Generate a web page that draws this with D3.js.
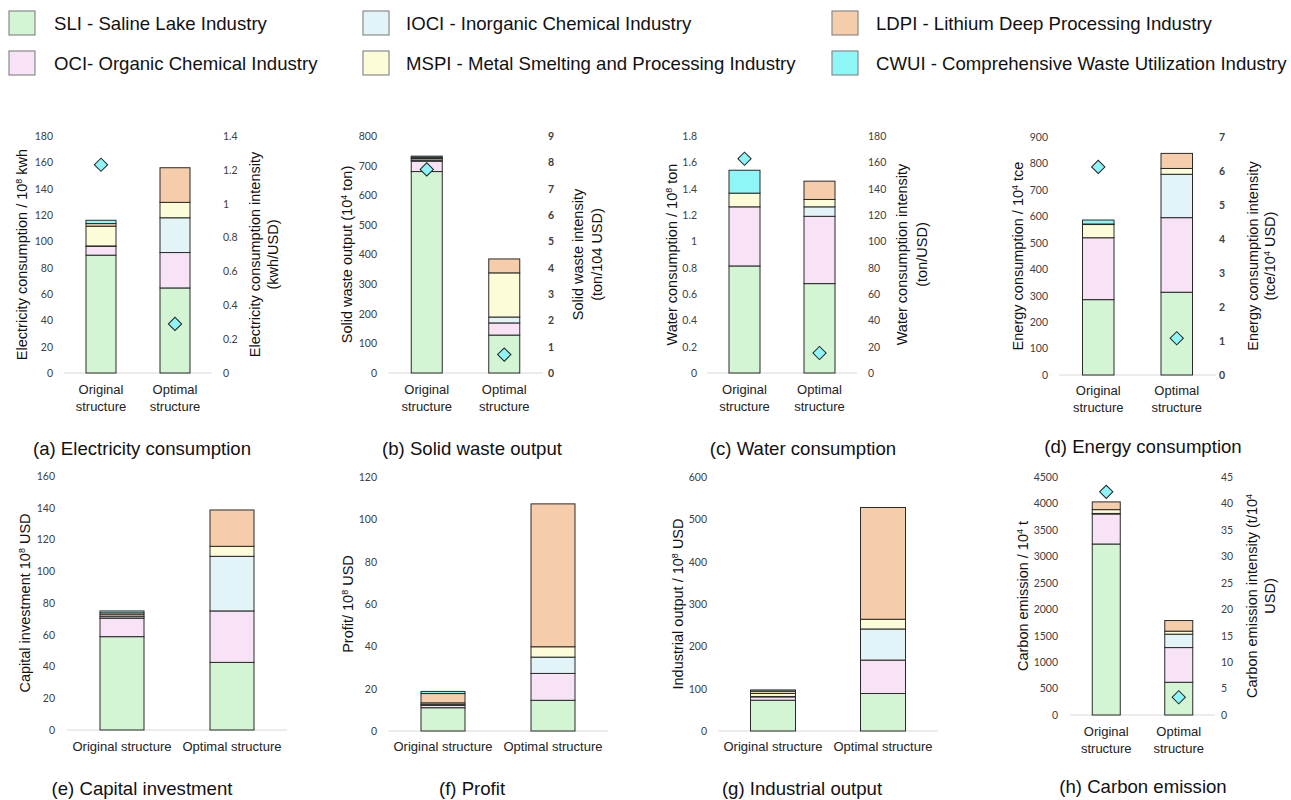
<!DOCTYPE html>
<html>
<head>
<meta charset="utf-8">
<script src="https://cdn.jsdelivr.net/npm/d3@7"></script>
<style>
  body { margin: 0; background: #fff; }
  svg { display: block; }
</style>
</head>
<body>
<div id="chart"></div>
<script>
// industries, in stacking order (bottom -> top)
var industries = ["SLI", "OCI", "IOCI", "MSPI", "LDPI", "CWUI"];
var legendLabels = [
  "SLI - Saline Lake Industry",
  "OCI- Organic Chemical Industry",
  "IOCI - Inorganic Chemical Industry",
  "MSPI - Metal Smelting and Processing Industry",
  "LDPI - Lithium Deep Processing Industry",
  "CWUI - Comprehensive Waste Utilization Industry"
];
var structures = ["Original structure", "Optimal structure"];

// values per industry: [SLI, OCI, IOCI, MSPI, LDPI, CWUI]
var electricityOriginal = [89.5, 6.7, 0.3, 15.0, 2.0, 2.5];
var electricityOptimal  = [64.6, 26.9, 26.4, 11.7, 26.3, 0];
var electricityIntensity = [1.23, 0.29];

var solidWasteOriginal = [680, 35, 4, 5, 4, 4];
var solidWasteOptimal  = [128, 41, 20, 149, 47, 0];
var solidWasteIntensity = [7.73, 0.70];

var waterOriginal = [0.813, 0.449, 0, 0.104, 0, 0.174];
var waterOptimal  = [0.679, 0.511, 0.072, 0.056, 0.139, 0];
var waterIntensity = [162.7, 15.2];

var energyOriginal = [285, 234, 0, 50, 2, 15];
var energyOptimal  = [313, 282, 164, 22, 57, 0];
var energyIntensity = [6.12, 1.08];

var investmentOriginal = [58.8, 11.6, 1.0, 1.2, 1.2, 1.2];
var investmentOptimal  = [42.6, 32.4, 34.4, 6.3, 22.9, 0];

var profitOriginal = [11.0, 1.1, 0.5, 0.7, 4.4, 1.0];
var profitOptimal  = [14.5, 12.7, 7.7, 4.9, 67.5, 0];

var outputOriginal = [72.7, 7.9, 1.0, 7.0, 5.4, 3.0];
var outputOptimal  = [88.6, 78.9, 73.5, 23.0, 264, 0];

var carbonOriginal = [3233, 568, 10, 72, 146, 0];
var carbonOptimal  = [619, 656, 253, 57, 201, 0];
var carbonIntensity = [42.2, 3.35];

var colors = d3.scaleOrdinal()
    .domain(industries)
    .range(["#d3f5d3", "#f8e3f6", "#e2f4f7", "#fcfdd8", "#f6cdaa", "#8ff6f8"]);

var panels = [
  {data: [electricityOriginal, electricityOptimal], intensity: electricityIntensity,
   yMax: 180, yStep: 20, y0: 373, y1: 136, rMax: 1.4, rStep: 0.2, base: [64, 212], bw: 30,
   lx: 53, rx: 223, ltx: 22, rtx: [255, 273], twoLine: true, catY: 394,
   leftTitle: ["Electricity consumption / 10", {sup: "8"}, " kwh"],
   rightTitle: [["Electricity consumption intensity"], ["(kwh/USD)"]],
   title: "(a) Electricity consumption", tx: 142, ty: 455},
  {data: [solidWasteOriginal, solidWasteOptimal], intensity: solidWasteIntensity,
   yMax: 800, yStep: 100, y0: 373, y1: 136, rMax: 9, rStep: 1, rBold: true, base: [388, 543], bw: 31,
   lx: 377, rx: 548, ltx: 347, rtx: [578, 597], twoLine: true, catY: 394,
   leftTitle: ["Solid waste output (10", {sup: "4"}, " ton)"],
   rightTitle: [["Solid waste intensity"], ["(ton/104 USD)"]],
   title: "(b) Solid waste output", tx: 472, ty: 455},
  {data: [waterOriginal, waterOptimal], intensity: waterIntensity,
   yMax: 1.8, yStep: 0.2, y0: 373, y1: 136, rMax: 180, rStep: 20, base: [707, 857], bw: 31,
   lx: 697, rx: 868, ltx: 672, rtx: [902, 922], twoLine: true, catY: 394,
   leftTitle: ["Water consumption / 10", {sup: "8"}, " ton"],
   rightTitle: [["Water consumption intensity"], ["(ton/USD)"]],
   title: "(c) Water consumption", tx: 803, ty: 455},
  {data: [energyOriginal, energyOptimal], intensity: energyIntensity,
   yMax: 900, yStep: 100, y0: 375, y1: 137, rMax: 7, rStep: 1, rBold: true, base: [1059, 1216], bw: 31.5,
   lx: 1048, rx: 1219, ltx: 1018, rtx: [1253, 1270], twoLine: true, catY: 395,
   leftTitle: ["Energy consumption / 10", {sup: "4"}, " tce"],
   rightTitle: [["Energy consumption intensity"], ["(tce/10", {sup: "4"}, " USD)"]],
   title: "(d) Energy consumption", tx: 1143, ty: 453},
  {data: [investmentOriginal, investmentOptimal],
   yMax: 160, yStep: 20, y0: 730, y1: 476, base: [67, 287], bw: 44,
   lx: 55, ltx: 25, twoLine: false, catY: 751,
   leftTitle: ["Capital investment 10", {sup: "8"}, " USD"],
   title: "(e) Capital investment", tx: 142, ty: 795},
  {data: [profitOriginal, profitOptimal],
   yMax: 120, yStep: 20, y0: 731, y1: 477, base: [388, 608], bw: 44,
   lx: 377, ltx: 348, twoLine: false, catY: 751,
   leftTitle: ["Profit/ 10", {sup: "8"}, " USD"],
   title: "(f) Profit", tx: 472, ty: 795},
  {data: [outputOriginal, outputOptimal],
   yMax: 600, yStep: 100, y0: 731, y1: 477, base: [718, 938], bw: 45,
   lx: 707, ltx: 678, twoLine: false, catY: 751,
   leftTitle: ["Industrial output / 10", {sup: "8"}, " USD"],
   title: "(g) Industrial output", tx: 802, ty: 795},
  {data: [carbonOriginal, carbonOptimal], intensity: carbonIntensity,
   yMax: 4500, yStep: 500, y0: 715, y1: 477, rMax: 45, rStep: 5, base: [1070, 1215], bw: 28,
   lx: 1058, rx: 1221, ltx: 1023, rtx: [1252, 1270], twoLine: true, catY: 736,
   leftTitle: ["Carbon emission / 10", {sup: "4"}, " t"],
   rightTitle: [["Carbon emission intensity (t/10", {sup: "4"}], ["USD)"]],
   title: "(h) Carbon emission", tx: 1143, ty: 793}
];

var svg = d3.select("#chart").append("svg")
    .attr("width", 1291)
    .attr("height", 800)
    .style("font-family", "'Liberation Sans', Arial, sans-serif");

var tickFont = "Lato, 'Open Sans', sans-serif";

// write a text made of plain parts and {sup: ".."} parts
function rich(text, parts, size) {
  var shifted = false;
  parts.forEach(function(p) {
    if (typeof p === "string") {
      var t = text.append("tspan").text(p);
      if (shifted) { t.attr("dy", size * 0.38); shifted = false; }
    } else {
      text.append("tspan").attr("dy", -size * 0.38).attr("font-size", size * 0.62).text(p.sup);
      shifted = true;
    }
  });
}

function fmt(v) { return String(+v.toFixed(2)); }

// legend
var legend = svg.append("g").attr("font-size", 18.6).attr("fill", "#111");
var legendPos = [[9, 11], [9, 51], [363, 11], [363, 51], [832, 11], [832, 51]];
industries.forEach(function(k, i) {
  var p = legendPos[i];
  legend.append("rect")
      .attr("x", p[0]).attr("y", p[1])
      .attr("width", 26).attr("height", 24)
      .attr("fill", colors(k))
      .attr("stroke", "#8a8a8a").attr("stroke-width", 1.2);
  legend.append("text")
      .attr("x", p[0] + (i < 2 ? 45 : (i < 4 ? 43 : 44)))
      .attr("y", p[1] + 12)
      .attr("dy", "0.35em")
      .text(legendLabels[i]);
});

var stack = d3.stack().keys(industries);

panels.forEach(function(cfg) {
  var g = svg.append("g");

  var rows = structures.map(function(s, j) {
    var row = {structure: s};
    industries.forEach(function(k, i) { row[k] = cfg.data[j][i]; });
    return row;
  });

  var step = (cfg.base[1] - cfg.base[0]) / 2,
      pad = 1 - cfg.bw / step;
  var x = d3.scaleBand()
      .domain(structures)
      .range(cfg.base)
      .paddingInner(pad)
      .paddingOuter(pad / 2);

  var y = d3.scaleLinear().domain([0, cfg.yMax]).range([cfg.y0, cfg.y1]);

  // baseline
  g.append("line")
      .attr("x1", cfg.base[0]).attr("x2", cfg.base[1])
      .attr("y1", cfg.y0).attr("y2", cfg.y0)
      .attr("stroke", "#d9d9d9").attr("stroke-width", 1.2);

  // left axis
  var yAxis = g.append("g")
      .attr("transform", "translate(" + (cfg.lx + 4) + ",0)")
      .call(d3.axisLeft(y)
        .tickValues(d3.range(0, cfg.yMax + cfg.yStep / 2, cfg.yStep))
        .tickFormat(fmt).tickSize(0).tickPadding(4));
  yAxis.select(".domain").remove();
  yAxis.selectAll("text")
      .attr("font-family", tickFont).attr("font-size", 10.5).attr("fill", "#404040");

  // stacked bars
  g.append("g")
    .selectAll("g")
    .data(stack(rows))
    .enter().append("g")
      .attr("fill", function(d) { return colors(d.key); })
    .selectAll("rect")
    .data(function(d) { return d; })
    .enter().append("rect")
      .attr("x", function(d) { return x(d.data.structure); })
      .attr("y", function(d) { return y(d[1]); })
      .attr("width", x.bandwidth())
      .attr("height", function(d) { return y(d[0]) - y(d[1]); })
      .attr("stroke", "#2a2a2a")
      .attr("stroke-width", 1);

  // category labels
  var cats = g.append("g").attr("font-size", 13).attr("fill", "#222").attr("text-anchor", "middle");
  structures.forEach(function(s) {
    var cx = x(s) + x.bandwidth() / 2;
    if (cfg.twoLine) {
      var parts = s.split(" ");
      cats.append("text").attr("x", cx).attr("y", cfg.catY).text(parts[0]);
      cats.append("text").attr("x", cx).attr("y", cfg.catY + 17).text(parts[1]);
    } else {
      cats.append("text").attr("x", cx).attr("y", cfg.catY).text(s);
    }
  });

  // left title
  var lt = g.append("text")
      .attr("transform", "translate(" + cfg.ltx + "," + ((cfg.y0 + cfg.y1) / 2) + ") rotate(-90)")
      .attr("text-anchor", "middle")
      .attr("dy", "0.35em")
      .attr("font-size", 14.5)
      .attr("fill", "#111");
  rich(lt, cfg.leftTitle, 14.5);

  // right axis + intensity diamonds
  if (cfg.intensity) {
    var yr = d3.scaleLinear().domain([0, cfg.rMax]).range([cfg.y0, cfg.y1]);
    var rAxis = g.append("g")
        .attr("transform", "translate(" + (cfg.rx - 4) + ",0)")
        .call(d3.axisRight(yr)
          .tickValues(d3.range(0, cfg.rMax + cfg.rStep / 2, cfg.rStep))
          .tickFormat(fmt).tickSize(0).tickPadding(4));
    rAxis.select(".domain").remove();
    rAxis.selectAll("text")
        .attr("font-family", tickFont).attr("font-size", 10.5).attr("fill", "#404040")
        .attr("font-weight", cfg.rBold ? "bold" : "normal");

    g.append("g")
      .selectAll("path")
      .data(cfg.intensity)
      .enter().append("path")
        .attr("d", d3.symbol(d3.symbolSquare, 88))
        .attr("transform", function(d, i) {
          return "translate(" + (x(structures[i]) + x.bandwidth() / 2) + "," + yr(d) + ") rotate(45)";
        })
        .attr("fill", "#8ff4f7")
        .attr("stroke", "#222")
        .attr("stroke-width", 1);

    cfg.rightTitle.forEach(function(line, k) {
      var rt = g.append("text")
          .attr("transform", "translate(" + cfg.rtx[k] + "," + ((cfg.y0 + cfg.y1) / 2) + ") rotate(-90)")
          .attr("text-anchor", "middle")
          .attr("dy", "0.35em")
          .attr("font-size", 14.5)
          .attr("fill", "#111");
      rich(rt, line, 14.5);
    });
  }

  // panel title
  g.append("text")
      .attr("x", cfg.tx).attr("y", cfg.ty)
      .attr("text-anchor", "middle")
      .attr("font-size", 18.6)
      .attr("fill", "#111")
      .text(cfg.title);
});
</script>
</body>
</html>
